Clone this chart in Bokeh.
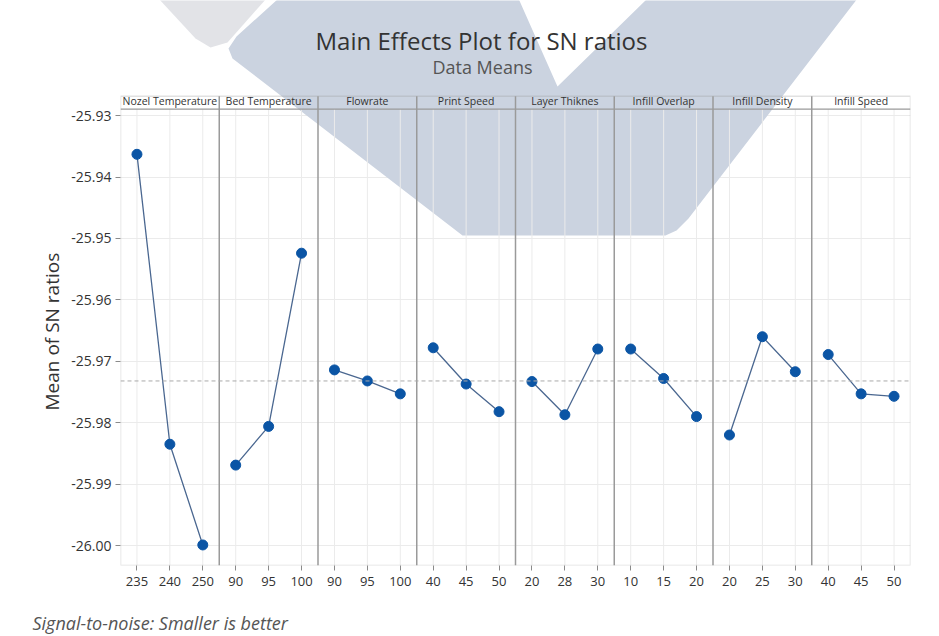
from bokeh.plotting import figure
from bokeh.models import (Range1d, FixedTicker, Span, Label, PrintfTickFormatter,
                          PolyAnnotation, BoxAnnotation, ColumnDataSource, Title)
from bokeh.embed import file_html
from bokeh.resources import INLINE

# ---------------- data ----------------
factors = ["Nozel Temperature", "Bed Temperature", "Flowrate", "Print Speed",
           "Layer Thiknes", "Infill Overlap", "Infill Density", "Infill Speed"]
levels = [["235", "240", "250"], ["90", "95", "100"], ["90", "95", "100"],
          ["40", "45", "50"], ["20", "28", "30"], ["10", "15", "20"],
          ["20", "25", "30"], ["40", "45", "50"]]
sn_means = [
    [-25.9363, -25.9835, -25.9999],
    [-25.9869, -25.9806, -25.9524],
    [-25.9714, -25.9732, -25.9753],
    [-25.9678, -25.9737, -25.9782],
    [-25.9733, -25.9787, -25.9680],
    [-25.9680, -25.9728, -25.9790],
    [-25.9820, -25.9660, -25.9717],
    [-25.9689, -25.9753, -25.9757],
]
grand_mean = -25.9732
y_ticks = [-25.93, -25.94, -25.95, -25.96, -25.97, -25.98, -25.99, -26.00]

# ---------------- layout helpers ----------------
SLOT = 6                      # each panel spans 6 x-units, levels at 1, 3, 5
level_pos = [1, 3, 5]
y_lo, y_hi = -26.003245, -25.91126     # frame reaches the canvas top (title area)
y_box = -25.926836                      # top edge of the panel box
y_header = -25.928945                   # bottom edge of the header strip

W, H = 935, 636
FRAME_LEFT, FRAME_BOTTOM = 120, 567
p = figure(width=W, height=H, output_backend="svg", toolbar_location=None,
           title_location=None,
           x_range=Range1d(0, SLOT * len(factors)), y_range=Range1d(y_lo, y_hi),
           min_border_left=FRAME_LEFT, min_border_right=25, min_border_top=0,
           min_border_bottom=H - FRAME_BOTTOM)
p.background_fill_color = "white"
p.border_fill_color = "white"
p.outline_line_color = None


def wm(points, color):
    """Background watermark shape, given in page pixels (top-left origin)."""
    xs = [x - FRAME_LEFT for x, _ in points]
    ys = [FRAME_BOTTOM - y for _, y in points]
    p.add_layout(PolyAnnotation(xs=xs, ys=ys, xs_units="screen", ys_units="screen",
                                fill_color=color, fill_alpha=1.0, line_alpha=0,
                                level="underlay"))


wm([(158, 0), (266, 0), (227, 44), (210, 49), (195, 40)], "#e2e3e7")
wm([(278, 0), (518, 0), (557, 88), (647, 0), (857, 0), (688, 220), (676, 232),
    (665, 237), (462, 237), (232, 60), (228, 50), (236, 38)], "#cbd3e0")

# grids
p.xgrid.visible = False
p.ygrid.ticker = FixedTicker(ticks=y_ticks)
p.ygrid.grid_line_color = "#ebebeb"

tick_x, tick_lbl = [], []
for i, lv in enumerate(levels):
    for j, lab in enumerate(lv):
        tick_x.append(SLOT * i + level_pos[j])
        tick_lbl.append(lab)

p.segment(x0=tick_x, y0=[y_lo] * len(tick_x), x1=tick_x, y1=[y_header] * len(tick_x),
          line_color="#ebebeb", line_width=1)

# panel box, header strip line and separators
p.add_layout(BoxAnnotation(left=0, right=SLOT * len(factors), bottom=y_lo, top=y_box,
                           fill_alpha=0, line_color="#9a9a9a", line_width=1.5))
p.segment(x0=[0], y0=[y_header], x1=[SLOT * len(factors)], y1=[y_header],
          line_color="#9a9a9a", line_width=1.2)
sep_x = [SLOT * i for i in range(1, len(factors))]
p.segment(x0=sep_x, y0=[y_lo] * len(sep_x), x1=sep_x, y1=[y_box] * len(sep_x),
          line_color="#9a9a9a", line_width=1.5)

# x axis
p.xaxis.ticker = FixedTicker(ticks=tick_x)
p.xaxis.major_label_overrides = {x: l for x, l in zip(tick_x, tick_lbl)}
p.xaxis.axis_line_color = None
p.xaxis.major_tick_line_color = "#8a8a8a"
p.xaxis.major_tick_out = 5
p.xaxis.major_tick_in = 0
p.xaxis.minor_tick_line_color = None
p.xaxis.major_label_text_font = "Open Sans"
p.xaxis.major_label_text_font_size = "13px"
p.xaxis.major_label_text_color = "#333333"
p.xaxis.major_label_standoff = 6
p.xaxis.axis_label = " "
p.xaxis.axis_label_text_font_size = "10px"
p.xaxis.axis_label_standoff = 4

# y axis
p.yaxis.ticker = FixedTicker(ticks=y_ticks)
p.yaxis.formatter = PrintfTickFormatter(format="%.2f")
p.yaxis.axis_line_color = None
p.yaxis.major_tick_line_color = "#8a8a8a"
p.yaxis.major_tick_out = 5
p.yaxis.major_tick_in = 0
p.yaxis.minor_tick_line_color = None
p.yaxis.major_label_text_font = "Open Sans"
p.yaxis.major_label_text_font_size = "14px"
p.yaxis.major_label_text_color = "#333333"
p.yaxis.major_label_standoff = 4

# y axis title, placed over the data rows only
p.add_layout(Title(text="Mean of SN ratios", align="left", offset=155,
                   text_font="Open Sans", text_font_size="19px",
                   text_font_style="normal", text_color="#333333",
                   standoff=7), "left")

# grand mean reference line
p.add_layout(Span(location=grand_mean, dimension="width", line_color="#aaaaaa",
                  line_width=1, line_dash="4 3"))

# data
for i, (lv, vals) in enumerate(zip(levels, sn_means)):
    xs = [SLOT * i + level_pos[j] for j in range(len(lv))]
    src = ColumnDataSource(dict(x=xs, y=vals))
    p.line("x", "y", source=src, line_color="#4a6790", line_width=1.3)
    p.scatter("x", "y", source=src, size=10, fill_color="#0b55a5",
              line_color="#0b55a5")

# header texts
for i, f in enumerate(factors):
    p.add_layout(Label(x=SLOT * i + 3, y=464.5, y_units="screen", text=f,
                       text_align="center", text_baseline="middle",
                       text_font="Open Sans", text_font_size="10.5px",
                       text_color="#333333"))

# titles (inside the tall frame)
p.add_layout(Label(x=361, y=525, x_units="screen", y_units="screen",
                   text="Main Effects Plot for SN ratios", text_align="center",
                   text_baseline="middle", text_font="Open Sans",
                   text_font_size="24px", text_color="#333333"))
p.add_layout(Label(x=362, y=499, x_units="screen", y_units="screen",
                   text="Data Means", text_align="center",
                   text_baseline="middle", text_font="Open Sans",
                   text_font_size="18px", text_color="#555555"))

# footnote
p.add_layout(Title(text="Signal-to-noise: Smaller is better", align="left",
                   offset=-88, text_font="Open Sans", text_font_size="18px",
                   text_font_style="italic", text_color="#555555",
                   standoff=4), "below")

open("out.html", "w").write(file_html(p, INLINE))
